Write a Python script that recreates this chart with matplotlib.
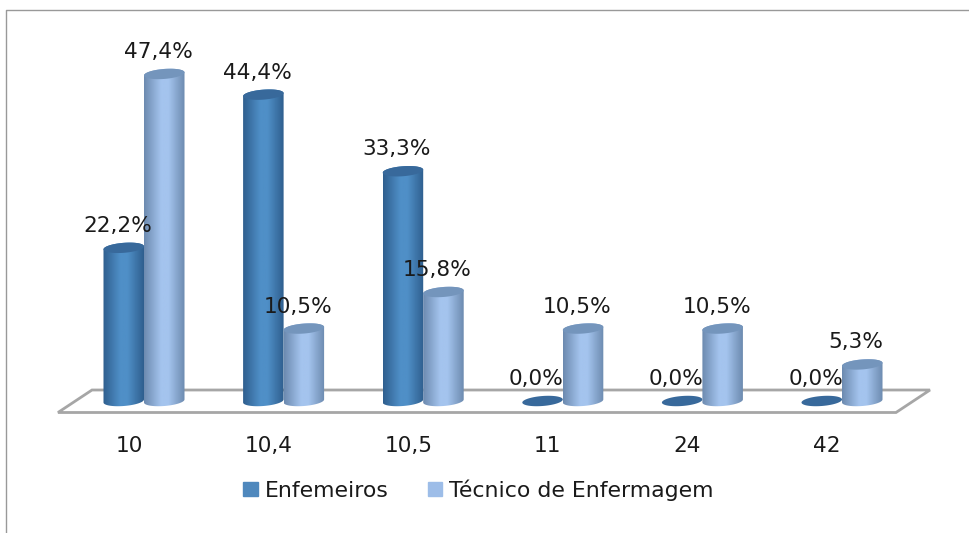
import numpy as np
import matplotlib
matplotlib.use('Agg')
import matplotlib.pyplot as plt
from matplotlib.colors import LinearSegmentedColormap
from matplotlib.patches import Patch, PathPatch, Polygon
from matplotlib.path import Path

categories = ['10', '10,4', '10,5', '11', '24', '42']
enfermeiros = [22.2, 44.4, 33.3, 0.0, 0.0, 0.0]
tecnicos = [47.4, 10.5, 15.8, 10.5, 10.5, 5.3]
series_names = ['Enfemeiros', 'Técnico de Enfermagem']

W, H = 970, 533
PX_X = 139.6      # pixels per category
PX_Y = 6.9        # pixels per percent
X0, Y0 = 144, 401 # pixel of first category / of zero
BAR = 40.5 / PX_X
RX = BAR / 2
RY = 5.0 / PX_Y
TILT = 0.075 * PX_X / PX_Y  # ellipses lean up to the right

fig = plt.figure(figsize=(W / 100, H / 100), dpi=100, facecolor='white')
ax = fig.add_axes([0, 0, 1, 1])
ax.axis('off')


def px(x):
    return (x - X0) / PX_X


def py(y):
    return (Y0 - y) / PX_Y


def ellipse_pts(cx, cy, t):
    return np.column_stack([cx + RX * np.cos(t),
                            cy + RY * np.sin(t) + TILT * RX * np.cos(t)])


def cylinder(cx, value, edge, mid, top, z):
    if value > 0:
        low = ellipse_pts(cx, 0, np.linspace(np.pi, 2 * np.pi, 40))
        high = ellipse_pts(cx, value, np.linspace(0, np.pi, 40))
        verts = np.vstack([low, high, low[:1]])
        codes = [Path.MOVETO] + [Path.LINETO] * (len(verts) - 2) + [Path.CLOSEPOLY]
        cmap = LinearSegmentedColormap.from_list('c', [(0, edge), (0.42, mid), (0.6, mid), (1, edge)])
        im = ax.imshow(np.linspace(0, 1, 64)[None, :], cmap=cmap, aspect='auto', zorder=z,
                       extent=[cx - RX, cx + RX, -2 * RY, value + 2 * RY])
        clip = PathPatch(Path(verts, codes), transform=ax.transData)
        im.set_clip_path(clip)
    cap = ellipse_pts(cx, value, np.linspace(0, 2 * np.pi, 80))
    ax.add_patch(Polygon(cap, closed=True, facecolor=top, edgecolor='none', zorder=z + 0.1))


# floor of the 3d chart
floor = [(px(58), py(412.5)), (px(92), py(390)), (px(930), py(390)), (px(896), py(412.5))]
ax.add_patch(Polygon(floor, closed=True, facecolor='white', edgecolor='#a6a6a6', lw=2, zorder=1))

for i in range(len(categories)):
    cylinder(i - BAR / 2, enfermeiros[i], '#2f5f8f', '#4f8fc7', '#38699b', 2 + i)
    cylinder(i + BAR / 2, tecnicos[i], '#6d8bb0', '#a4c4ee', '#7495bc', 2.5 + i)

lbl = dict(ha='center', va='center', fontsize=15.6, color='#1a1a1a', zorder=20)
for i in range(len(categories)):
    ax.text(i - BAR / 2 - 6 / PX_X, enfermeiros[i] + 22 / PX_Y,
            ('%.1f%%' % enfermeiros[i]).replace('.', ','), **lbl)
    ax.text(i + BAR / 2 - 6 / PX_X, tecnicos[i] + 22 / PX_Y,
            ('%.1f%%' % tecnicos[i]).replace('.', ','), **lbl)
    ax.text(i - 15 / PX_X, py(446), categories[i], ha='center', va='center', fontsize=15.6, color='#1a1a1a')

handles = [Patch(color='#4f88bd'), Patch(color='#9dbde8')]
ax.legend(handles, series_names, ncol=2, frameon=False, fontsize=15.8, loc='center',
          bbox_to_anchor=(478.5 / W, 1 - 490 / H), handlelength=0.64, handleheight=0.64,
          handletextpad=0.32, columnspacing=1.8, labelcolor='#1a1a1a')

# chart frame, only top and left are visible
ax.plot([px(970), px(6), px(6)], [py(10), py(10), py(533)], color='#999999', lw=1, zorder=0)

ax.set_xlim(px(0), px(W))
ax.set_ylim(py(H), py(0))
fig.savefig('out.png', dpi=100)
